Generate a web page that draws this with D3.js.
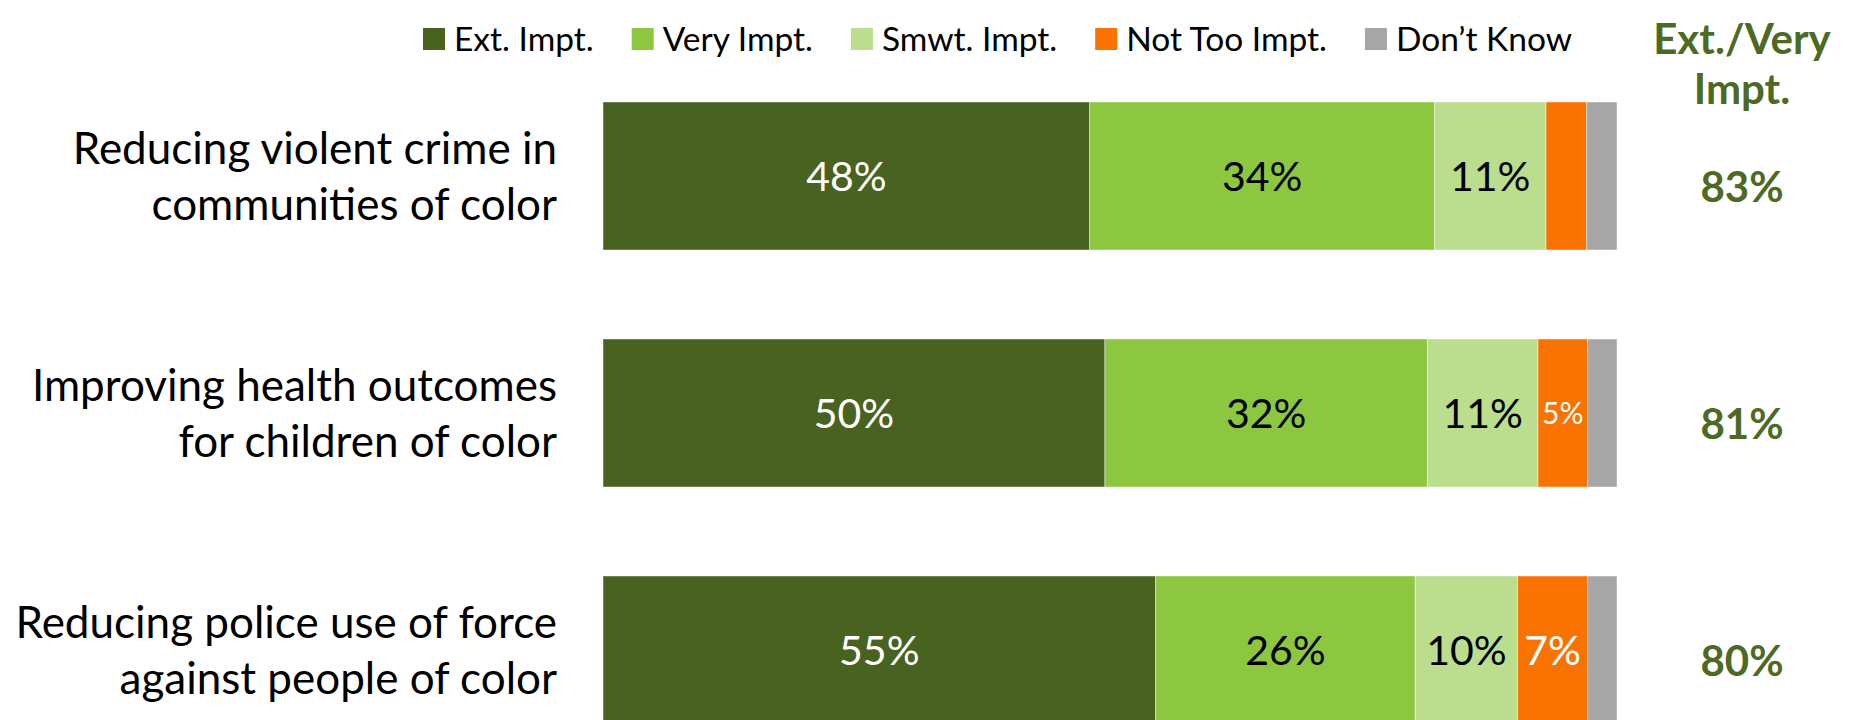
<!DOCTYPE html>
<html>
<head>
<meta charset="utf-8">
<script src="https://cdn.jsdelivr.net/npm/d3@7"></script>
<style>
  html, body { margin: 0; padding: 0; background: #fff; }
  svg { display: block; font-family: Lato, "Open Sans", sans-serif; }
</style>
</head>
<body>
<div id="chart"></div>
<script>
// chart data
const categories = [
  "Reducing violent crime in communities of color",
  "Improving health outcomes for children of color",
  "Reducing police use of force against people of color"
];
const categoryLines = [
  ["Reducing violent crime in", "communities of color"],
  ["Improving health outcomes", "for children of color"],
  ["Reducing police use of force", "against people of color"]
];
const seriesNames = ["Ext. Impt.", "Very Impt.", "Smwt. Impt.", "Not Too Impt.", "Don\u2019t Know"];
const extImpt = [48.0, 49.5, 54.5];
const veryImpt = [34.0, 31.8, 25.6];
const smwtImpt = [11.0, 10.9, 10.1];
const notTooImpt = [4.0, 4.9, 6.9];
const dontKnow = [3.0, 2.9, 2.9];
const netLabel = ["Ext./Very", "Impt."];
const extVeryNet = [83, 81, 80];

const colors = ["#48631f", "#8dc63f", "#bbdd8e", "#fa7300", "#a6a6a6"];
const labelColors = ["#fff", "#000", "#000", "#fff", "#000"];
const netColor = "#4d6a23";

const width = 1851, height = 720;

const svg = d3.select('#chart')
  .append('svg')
  .attr('width', width)
  .attr('height', height);

const rows = categories.map((c, i) => ({
  category: c,
  lines: categoryLines[i],
  net: extVeryNet[i],
  [seriesNames[0]]: extImpt[i],
  [seriesNames[1]]: veryImpt[i],
  [seriesNames[2]]: smwtImpt[i],
  [seriesNames[3]]: notTooImpt[i],
  [seriesNames[4]]: dontKnow[i]
}));

const stacked = d3.stack().keys(seriesNames)(rows);

// scales
const x = d3.scaleLinear()
  .domain([0, 100])
  .range([603, 1617]);

const y = d3.scaleBand()
  .domain(categories)
  .range([57.5, 768.5])
  .paddingInner(0.3755)
  .paddingOuter(0.18775);

const color = d3.scaleOrdinal().domain(seriesNames).range(colors);

// bars
const layers = svg.append('g').attr('class', 'bars')
  .selectAll('g')
  .data(stacked)
  .enter()
  .append('g')
  .attr('fill', d => color(d.key));

layers.selectAll('rect')
  .data(d => d.map(p => ({ key: d.key, p })))
  .enter()
  .append('rect')
  .attr('x', d => x(d.p[0]))
  .attr('y', d => y(d.p.data.category))
  .attr('width', d => x(d.p[1]) - x(d.p[0]))
  .attr('height', y.bandwidth())
  .attr('stroke', 'rgba(255,255,255,0.45)')
  .attr('stroke-width', 1);

// segment labels (small ones get a smaller font)
layers.selectAll('text')
  .data(d => d.map(p => ({ key: d.key, p })).filter(d => Math.round(d.p[1] - d.p[0]) >= 5))
  .enter()
  .append('text')
  .attr('x', d => (x(d.p[0]) + x(d.p[1])) / 2)
  .attr('y', d => y(d.p.data.category) + y.bandwidth() / 2)
  .attr('dy', '0.36em')
  .attr('text-anchor', 'middle')
  .style('font-size', d => (d.p[1] - d.p[0]) < 6 ? '30px' : '41px')
  .style('fill', d => labelColors[seriesNames.indexOf(d.key)])
  .text(d => Math.round(d.p[1] - d.p[0]) + '%');

// category labels
const catLabels = svg.append('g').attr('class', 'categories')
  .selectAll('text')
  .data(rows)
  .enter()
  .append('text')
  .attr('x', 557)
  .attr('y', d => y(d.category) + y.bandwidth() / 2)
  .attr('text-anchor', 'end')
  .style('font-size', '44px')
  .style('fill', '#000');

catLabels.selectAll('tspan')
  .data(d => d.lines)
  .enter()
  .append('tspan')
  .attr('x', 557)
  .attr('dy', (d, i) => i === 0 ? -12 : 56)
  .text(d => d);

// net column
const netX = 1742;
svg.append('text')
  .attr('x', netX)
  .attr('y', 54)
  .attr('text-anchor', 'middle')
  .style('font-size', '42px')
  .style('font-weight', 'bold')
  .style('fill', netColor)
  .selectAll('tspan')
  .data(netLabel)
  .enter()
  .append('tspan')
  .attr('x', netX)
  .attr('dy', (d, i) => i === 0 ? 0 : 50)
  .text(d => d);

svg.append('g').attr('class', 'net')
  .selectAll('text')
  .data(rows)
  .enter()
  .append('text')
  .attr('x', netX)
  .attr('y', d => y(d.category) + y.bandwidth() / 2 + 11)
  .attr('dy', '0.36em')
  .attr('text-anchor', 'middle')
  .style('font-size', '42px')
  .style('font-weight', 'bold')
  .style('fill', netColor)
  .text(d => d.net + '%');

// legend
const legend = svg.append('g').attr('class', 'legend');
const sq = 22;
let lx = 423;
seriesNames.forEach((name, i) => {
  const item = legend.append('g').attr('transform', `translate(${lx},0)`);
  item.append('rect')
    .attr('x', 0)
    .attr('y', 28)
    .attr('width', sq)
    .attr('height', sq)
    .attr('fill', colors[i]);
  const t = item.append('text')
    .attr('x', sq + 9)
    .attr('y', 39)
    .attr('dy', '0.36em')
    .style('font-size', '33.5px')
    .style('fill', '#000')
    .text(name);
  lx += sq + 9 + t.node().getComputedTextLength() + 38;
});
</script>
</body>
</html>
